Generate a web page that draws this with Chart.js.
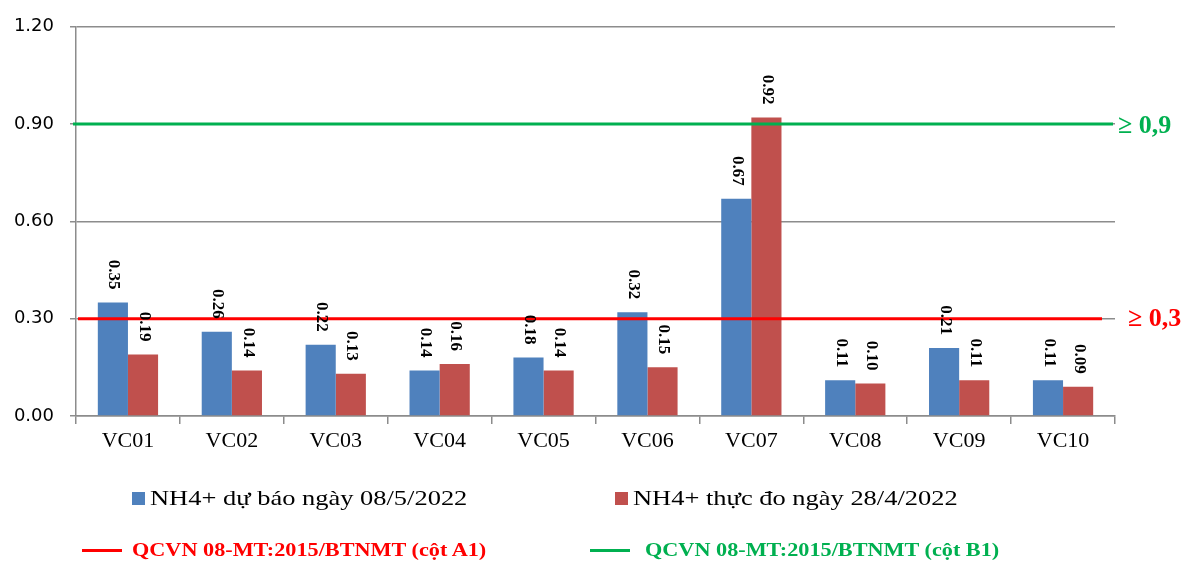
<!DOCTYPE html>
<html>
<head>
<meta charset="utf-8">
<script src="https://cdn.jsdelivr.net/npm/chart.js@4"></script>
<style>
  html, body { margin: 0; padding: 0; background: #fff; }
  #wrap { position: relative; width: 1185px; height: 562px; }
  .leg { position: absolute; white-space: nowrap; font-family: "Liberation Serif", "Times New Roman", serif; transform-origin: 0 50%; }
  .sw { position: absolute; }
</style>
</head>
<body>
<div id="wrap">
  <canvas id="chart" width="1185" height="562"></canvas>
  <div id="legend"></div>
</div>
<script>
// values
const categories = ['VC01', 'VC02', 'VC03', 'VC04', 'VC05', 'VC06', 'VC07', 'VC08', 'VC09', 'VC10'];
const forecast = [0.35, 0.26, 0.22, 0.14, 0.18, 0.32, 0.67, 0.11, 0.21, 0.11];
const measured = [0.19, 0.14, 0.13, 0.16, 0.14, 0.15, 0.92, 0.10, 0.11, 0.09];
const seriesNames = ['NH4+ dự báo ngày 08/5/2022', 'NH4+ thực đo ngày 28/4/2022'];
const limitNames = ['QCVN 08-MT:2015/BTNMT (cột A1)', 'QCVN 08-MT:2015/BTNMT (cột B1)'];
const limitValues = [0.3, 0.9];
const limitTags = ['≥ 0,3', '≥ 0,9'];

const BLUE = '#4F81BD', RED = '#C0504D', LIM_RED = '#FF0000', LIM_GREEN = '#00B050';
const GRID = '#8c8c8c';

// the two QCVN limit lines, placed with the y scale
const limitLines = {
  id: 'limitLines',
  afterDatasetsDraw(chart) {
    const ctx = chart.ctx, y = chart.scales.y, a = chart.chartArea;
    ctx.save();
    ctx.lineWidth = 3;
    ctx.strokeStyle = LIM_RED;
    let py = y.getPixelForValue(limitValues[0]);
    ctx.beginPath(); ctx.moveTo(a.left + 2, py); ctx.lineTo(a.right - 13, py); ctx.stroke();
    ctx.strokeStyle = LIM_GREEN;
    py = y.getPixelForValue(limitValues[1]);
    ctx.beginPath(); ctx.moveTo(a.left - 3, py); ctx.lineTo(a.right - 2, py); ctx.stroke();
    ctx.restore();
  }
};

// bar value labels, rotated like in the source
const barLabels = {
  id: 'barLabels',
  afterDatasetsDraw(chart) {
    const ctx = chart.ctx;
    ctx.save();
    ctx.font = 'bold 17px "Liberation Serif", serif';
    ctx.fillStyle = '#000';
    ctx.textAlign = 'right';
    ctx.textBaseline = 'middle';
    [0, 1].forEach(di => {
      const meta = chart.getDatasetMeta(di);
      meta.data.forEach((bar, i) => {
        const v = chart.data.datasets[di].data[i];
        ctx.save();
        ctx.translate(bar.x + 1, bar.y - 13);
        ctx.rotate(Math.PI / 2);
        ctx.fillText(v.toFixed(2), 0, 0);
        ctx.restore();
      });
    });
    ctx.restore();
  }
};

// "≥ 0,3" / "≥ 0,9" tags at the right end of the limit lines
const limitTagPlugin = {
  id: 'limitTags',
  afterDraw(chart) {
    const ctx = chart.ctx, y = chart.scales.y, right = chart.chartArea.right;
    ctx.save();
    ctx.font = 'bold 26px "Liberation Serif", serif';
    ctx.textBaseline = 'middle';
    ctx.textAlign = 'left';
    ctx.fillStyle = LIM_RED;
    ctx.fillText(limitTags[0], right + 13, y.getPixelForValue(limitValues[0]) + 1);
    ctx.fillStyle = LIM_GREEN;
    ctx.fillText(limitTags[1], right + 3, y.getPixelForValue(limitValues[1]) + 2);
    ctx.restore();
  }
};

const chart = new Chart(document.getElementById('chart'), {
  type: 'bar',
  data: {
    labels: categories,
    datasets: [
      { label: seriesNames[0], data: forecast, backgroundColor: BLUE,
        categoryPercentage: 0.58, barPercentage: 1 },
      { label: seriesNames[1], data: measured, backgroundColor: RED,
        categoryPercentage: 0.58, barPercentage: 1 },
    ]
  },
  options: {
    responsive: false,
    devicePixelRatio: 1,
    animation: false,
    layout: { padding: { top: 25, left: 0, right: 70, bottom: 106 } },
    plugins: { legend: { display: false }, tooltip: { enabled: false } },
    scales: {
      x: {
        grid: { offset: true, drawOnChartArea: false, color: GRID, lineWidth: 1.5, tickLength: 8 },
        border: { color: GRID, width: 1.5 },
        ticks: { color: '#000', font: { family: '"Liberation Serif", serif', size: 22 }, padding: 4 },
        afterFit: s => { s.height = 40; }
      },
      y: {
        min: 0, max: 1.2,
        grid: { color: GRID, lineWidth: 1.5, tickLength: 6 },
        border: { color: GRID, width: 1.5 },
        ticks: { stepSize: 0.3, color: '#000', padding: 16,
          font: { family: '"DejaVu Sans", sans-serif', size: 18 },
          callback: v => v.toFixed(2) },
        afterFit: s => { s.width = 76; }
      }
    }
  },
  plugins: [limitLines, barLabels, limitTagPlugin]
});

// legend below the chart, laid out like the source
const legend = document.getElementById('legend');
const items = [
  { kind: 'box', color: BLUE, text: seriesNames[0], x: 132, y: 498, size: 21, sx: 1.26, weight: 'normal', tcolor: '#000', gap: 18 },
  { kind: 'box', color: RED, text: seriesNames[1], x: 615, y: 498, size: 21, sx: 1.26, weight: 'normal', tcolor: '#000', gap: 18 },
  { kind: 'line', color: LIM_RED, text: limitNames[0], x: 82, y: 550, size: 19, sx: 1.17, weight: 'bold', tcolor: LIM_RED, gap: 50 },
  { kind: 'line', color: LIM_GREEN, text: limitNames[1], x: 590, y: 550, size: 19, sx: 1.17, weight: 'bold', tcolor: LIM_GREEN, gap: 55 },
];
items.forEach(it => {
  const sw = document.createElement('div');
  sw.className = 'sw';
  if (it.kind === 'box') {
    Object.assign(sw.style, { left: it.x + 'px', top: (it.y - 6) + 'px', width: '13px', height: '13px', background: it.color });
  } else {
    Object.assign(sw.style, { left: it.x + 'px', top: (it.y - 1) + 'px', width: '40px', height: '3px', background: it.color });
  }
  legend.appendChild(sw);
  const t = document.createElement('div');
  t.className = 'leg';
  t.textContent = it.text;
  Object.assign(t.style, { left: (it.x + it.gap) + 'px', top: (it.y - 14) + 'px', lineHeight: '28px', height: '28px',
    fontSize: it.size + 'px', fontWeight: it.weight, color: it.tcolor, transform: 'scaleX(' + it.sx + ')' });
  legend.appendChild(t);
});
</script>
</body>
</html>
